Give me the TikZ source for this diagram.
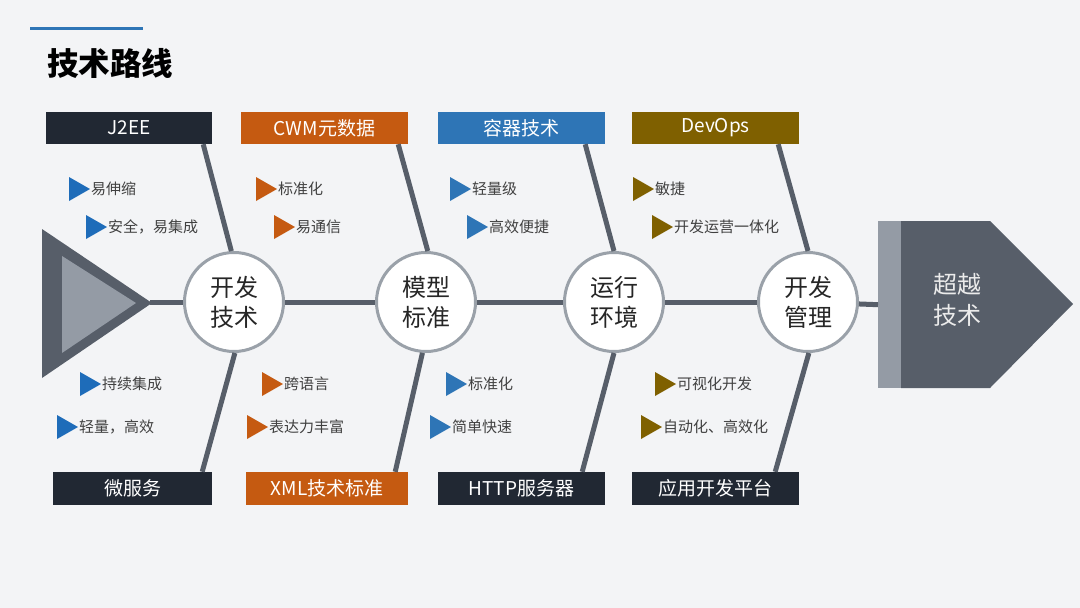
\documentclass[tikz,border=0pt]{standalone}
\usepackage{fontspec}
\setmainfont{Noto Sans CJK SC}
\usetikzlibrary{calc}
\definecolor{bg}{HTML}{F3F4F6}
\definecolor{navy}{HTML}{212833}
\definecolor{orng}{HTML}{C55A11}
\definecolor{blu}{HTML}{2E75B6}
\definecolor{blu1}{HTML}{1E6CB9}
\definecolor{olive}{HTML}{7F6000}
\definecolor{gdark}{HTML}{575E69}
\definecolor{glight}{HTML}{949BA5}
\definecolor{cborder}{HTML}{9AA1A9}
\definecolor{btext}{HTML}{404040}
\newcommand\fbul[4]{%
  \node[bultext, anchor=west] (#1) at (#3) {#4};
  \fill[#2] ($(#1.west)+(-22,-12)$) -- ($(#1.west)+(-1,0)$) -- ($(#1.west)+(-22,12)$) -- cycle;
}
\begin{document}
\begin{tikzpicture}[x=1pt,y=-1pt,
  labelbox/.style={inner sep=0pt, minimum height=32pt, text=white,
    font=\fontsize{19}{22}\selectfont},
  hub/.style={circle, draw=cborder, line width=3pt, fill=white, minimum size=99pt,
    inner sep=0pt, align=center, text=black!85, font=\fontsize{24}{30}\selectfont},
  spoke/.style={draw=gdark, line width=5pt},
  mainline/.style={draw=gdark, line width=5pt},
  bultext/.style={inner sep=0pt, text=btext, font=\fontsize{15}{18}\selectfont}]
\useasboundingbox[fill=bg] (0,0) rectangle (1080,608);

% header
\draw[blu, line width=3pt] (30,28) -- (143,28);
\node[anchor=west, inner sep=0pt, text=black, font=\fontsize{31.5}{36}\selectfont\bfseries] (title) at (47,63) {技术路线};

% tail triangle
\fill[gdark] (42,229) -- (152,303) -- (42,378) -- cycle;
\fill[glight] (62,256) -- (136,303) -- (62,353) -- cycle;
\coordinate (tip) at (150,302);

% head
\node[fill=glight, inner sep=0pt, minimum width=23pt, minimum height=167pt, anchor=north west] (strip) at (878,221) {};
\fill[gdark] (901,221) -- (990,221) -- (1073,304) -- (990,388) -- (901,388) -- cycle;
\node[align=center, text=white!92!black, font=\fontsize{24}{31}\selectfont] (goal) at (957,300) {超越\\技术};

% label boxes
\node[labelbox, fill=navy, minimum width=166pt] (t1) at (129,128) {J2EE};
\node[labelbox, fill=orng, minimum width=167pt] (t2) at (324.5,128) {CWM元数据};
\node[labelbox, fill=blu, minimum width=167pt] (t3) at (521.5,128) {容器技术};
\node[labelbox, fill=olive, minimum width=167pt] (t4) at (715.5,128) {DevOps};
\node[labelbox, fill=navy, minimum width=159pt, minimum height=33pt] (b1) at (132.5,488.5) {微服务};
\node[labelbox, fill=orng, minimum width=162pt, minimum height=33pt] (b2) at (327,488.5) {XML技术标准};
\node[labelbox, fill=navy, minimum width=167pt, minimum height=33pt] (b3) at (521.5,488.5) {HTTP服务器};
\node[labelbox, fill=navy, minimum width=167pt, minimum height=33pt] (b4) at (715.5,488.5) {应用开发平台};

% hubs
\node[hub] (c1) at (234,302) {开发\\技术};
\node[hub] (c2) at (426,302) {模型\\标准};
\node[hub] (c3) at (614,302) {运行\\环境};
\node[hub] (c4) at (808,302) {开发\\管理};

% main line
\draw[mainline] (tip) -- (c1);
\draw[mainline] (c1) -- (c2);
\draw[mainline] (c2) -- (c3);
\draw[mainline] (c3) -- (c4);
\draw[mainline] (c4) -- (strip.west);

% spokes
\draw[spoke] ($(t1.south east)+(-9,0)$) -- (c1.93);
\draw[spoke] ($(t2.south east)+(-10,0)$) -- (c2.88);
\draw[spoke] ($(t3.south east)+(-20,0)$) -- (c3.90);
\draw[spoke] ($(t4.south east)+(-21,0)$) -- (c4.90);
\draw[spoke] ($(b1.north east)+(-10,0)$) -- (c1.-89);
\draw[spoke] ($(b2.north east)+(-13,0)$) -- (c2.-94);
\draw[spoke] ($(b3.north east)+(-23,0)$) -- (c3.-90);
\draw[spoke] ($(b4.north east)+(-24,0)$) -- (c4.-89);

% bullets column 1
\fbul{p11}{blu1}{91,189}{易伸缩}
\fbul{p12}{blu1}{108,227}{安全，易集成}
\fbul{p13}{blu1}{102,384}{持续集成}
\fbul{p14}{blu1}{79,427}{轻量，高效}
% column 2
\fbul{p21}{orng}{278,189}{标准化}
\fbul{p22}{orng}{296,227}{易通信}
\fbul{p23}{orng}{284,384}{跨语言}
\fbul{p24}{orng}{269,427}{表达力丰富}
% column 3
\fbul{p31}{blu}{472,189}{轻量级}
\fbul{p32}{blu}{489,227}{高效便捷}
\fbul{p33}{blu}{468,384}{标准化}
\fbul{p34}{blu}{452,427}{简单快速}
% column 4
\fbul{p41}{olive}{655,189}{敏捷}
\fbul{p42}{olive}{674,227}{开发运营一体化}
\fbul{p43}{olive}{677,384}{可视化开发}
\fbul{p44}{olive}{663,427}{自动化、高效化}
\end{tikzpicture}
\end{document}
